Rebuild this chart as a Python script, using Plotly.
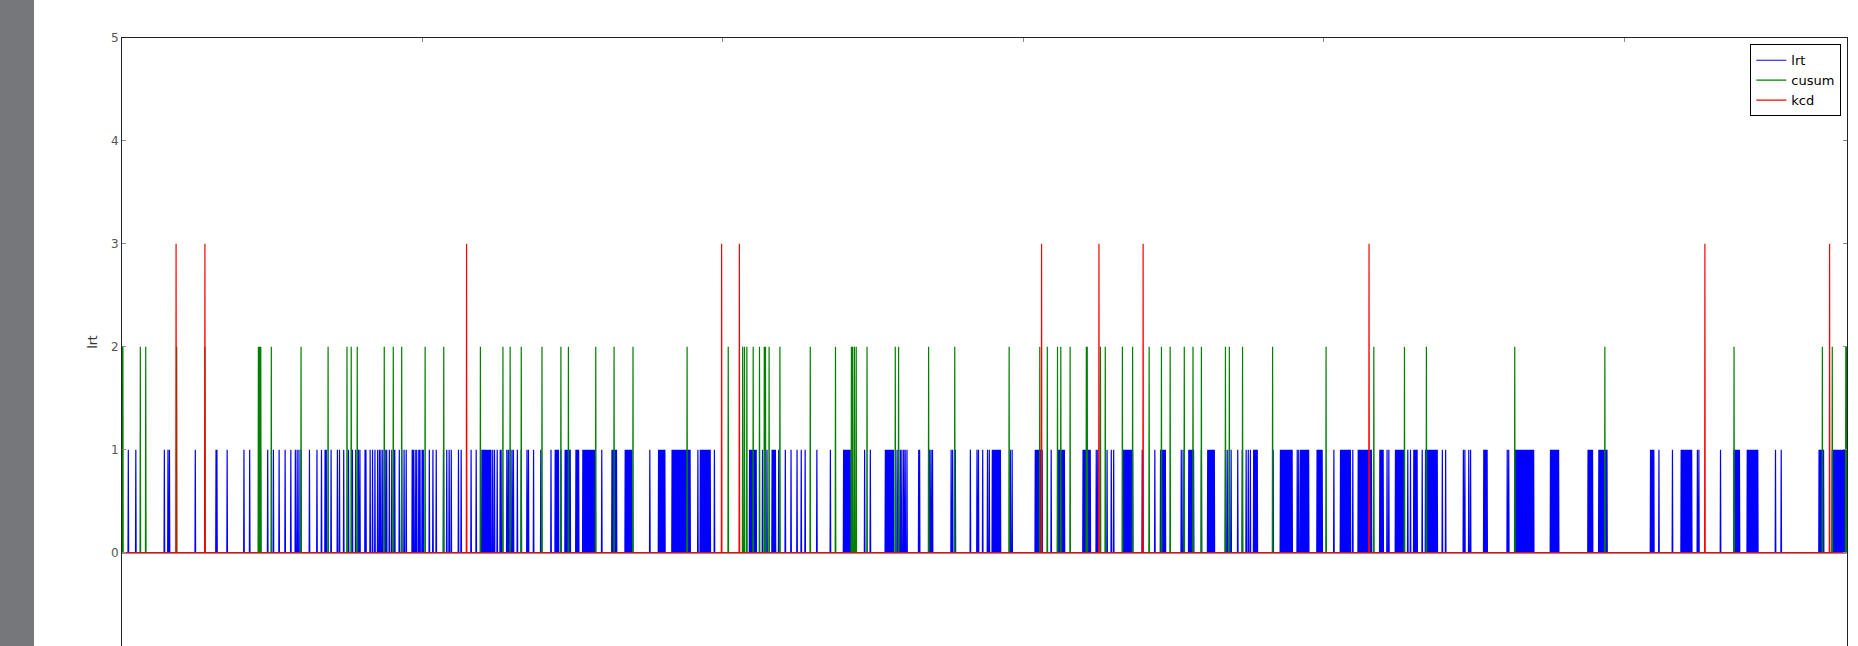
import numpy as np
import plotly.graph_objects as go

# ---- data (sample indices where each detector fires) ----
n_samples = 5742

lrt_events = [
    21, 46, 141, 153, 158, 244, 313, 316, 350, 406, 425, 457, 461, 485, 504, 523, 543, 562, 577, 583,
    589, 596, 624, 649, 664, 676, 680, 696, 717, 724, 738, 754, 767, 778, 787, 792, 809, 812, 826, 834,
    842, 851, 857, 862, 868, 876, 881, 890, 898, 906, 908, 923, 931, 939, 946, 966, 970, 976, 981, 988,
    992, 999, 1003, 1023, 1035, 1046, 1070, 1081, 1089, 1096, 1120, 1129, 1162, 1179,
    1198, 1201, 1204, 1207, 1210, 1213, 1216, 1219, 1222, 1225, 1228, 1234, 1240, 1249,
    1259, 1262, 1281, 1286, 1292, 1298, 1303, 1316, 1329, 1348, 1353, 1370, 1394, 1428,
    1442, 1445, 1448, 1451, 1453, 1461, 1475, 1478, 1481, 1484, 1487, 1490, 1492,
    1511, 1514, 1517, 1520, 1534, 1537, 1540, 1543, 1546, 1549, 1552, 1555, 1558, 1561, 1564, 1567, 1570, 1573,
    1597, 1631, 1634, 1637, 1640, 1643, 1646, 1675, 1678, 1681, 1684, 1687, 1690, 1693, 1697, 1757,
    1786, 1789, 1792, 1795, 1798, 1801, 1804, 1807,
    1831, 1834, 1837, 1840, 1843, 1846, 1849, 1852, 1855, 1858, 1861, 1864, 1867, 1870, 1873, 1876, 1879,
    1882, 1885, 1888, 1891,
    1917, 1925, 1928, 1931, 1934, 1937, 1940, 1943, 1946, 1949, 1952, 1955, 1958, 1972,
    2089, 2092, 2095, 2098, 2101, 2104, 2107, 2111, 2132, 2147, 2164, 2167, 2170, 2173, 2175,
    2186, 2208, 2227, 2247, 2261, 2274, 2313, 2358, 2402, 2405, 2408, 2411, 2414, 2417, 2420, 2424,
    2472, 2491, 2541, 2544, 2547, 2550, 2553, 2556, 2559, 2562, 2565, 2568, 2580, 2585, 2591, 2596,
    2602, 2607, 2613, 2652, 2655, 2688, 2693, 2698, 2760, 2765, 2774, 2824, 2846, 2851, 2865, 2881, 2887,
    2897, 2900, 2903, 2906, 2909, 2912, 2915, 2918, 2921, 2924, 2957, 2963,
    3040, 3043, 3046, 3049, 3052, 3055, 3058, 3061, 3063, 3093,
    3115, 3118, 3121, 3124, 3127, 3130, 3133, 3137, 3199, 3202, 3205, 3208, 3211, 3214, 3217, 3220, 3223,
    3243, 3248, 3279, 3293, 3301, 3332, 3335, 3338, 3341, 3344, 3347, 3350, 3353, 3356, 3359, 3362, 3364,
    3396, 3438, 3457, 3460, 3463, 3466, 3469, 3473, 3526, 3532, 3551, 3554, 3557, 3560, 3563, 3567,
    3593, 3614, 3617, 3620, 3623, 3626, 3629, 3632, 3636, 3673, 3679, 3686, 3692, 3714, 3729, 3742,
    3749, 3756, 3767, 3770, 3773, 3776, 3779, 3832,
    3856, 3859, 3862, 3865, 3868, 3871, 3874, 3877, 3880, 3883, 3886, 3889, 3892, 3895, 3912, 3917,
    3923, 3926, 3929, 3932, 3935, 3938, 3941, 3944, 3947, 3950, 3978, 3981, 3984, 3987, 3990, 3993, 3995,
    4034, 4056, 4059, 4062, 4065, 4068, 4071, 4074, 4077, 4080, 4083, 4086, 4089, 4097,
    4115, 4118, 4121, 4124, 4127, 4130, 4133, 4136, 4139, 4142, 4145, 4148, 4151, 4154, 4157, 4159,
    4187, 4190, 4193, 4196, 4198, 4211, 4217, 4239, 4242, 4245, 4248, 4251, 4254, 4257, 4260, 4263, 4267,
    4280, 4289, 4300, 4303, 4306, 4309, 4311, 4328,
    4339, 4342, 4345, 4348, 4351, 4354, 4357, 4360, 4363, 4366, 4369, 4372, 4375, 4378, 4395, 4406,
    4465, 4470, 4483, 4489, 4533, 4536, 4539, 4542, 4544, 4611, 4616,
    4639, 4642, 4645, 4648, 4651, 4654, 4657, 4660, 4663, 4666, 4669, 4672, 4675, 4678, 4681, 4684,
    4687, 4690, 4693, 4696, 4699,
    4755, 4758, 4761, 4764, 4767, 4770, 4773, 4776, 4779, 4782, 4880, 4883, 4886, 4889, 4892, 4895,
    4916, 4919, 4922, 4925, 4928, 4931, 4934, 4937, 4940, 4943,
    5088, 5091, 5094, 5097, 5099, 5116, 5161,
    5190, 5193, 5196, 5199, 5202, 5205, 5208, 5211, 5214, 5217, 5220, 5223, 5225, 5244, 5249, 5321,
    5366, 5369, 5372, 5375, 5378, 5381, 5384,
    5410, 5413, 5416, 5419, 5422, 5425, 5428, 5431, 5434, 5437, 5440, 5443, 5445, 5504, 5523,
    5649, 5652, 5655, 5658, 5661, 5664,
    5693, 5696, 5699, 5702, 5705, 5708, 5711, 5714, 5717, 5720, 5723, 5726, 5729, 5732, 5735, 5738,
]

cusum_events = [
    0, 3, 61, 79, 182, 276, 454, 458, 462, 497, 596, 686, 749, 763, 783, 873, 903, 931, 1009, 1071,
    1193, 1268, 1292, 1329, 1398, 1461, 1486, 1577, 1638, 1701, 1881, 2018, 2066, 2072, 2080, 2101,
    2122, 2138, 2142, 2154, 2190, 2291, 2375, 2428, 2432, 2438, 2444, 2480, 2574, 2585, 2685, 2772,
    2953, 3055, 3080, 3114, 3125, 3156, 3210, 3213, 3257, 3273, 3330, 3364, 3419, 3460, 3489, 3536,
    3565, 3593, 3673, 3686, 3730, 3830, 4008, 4167, 4269, 4342, 4636, 4936, 5366, 5660, 5693, 5738, 5741,
]

kcd_events = [180, 276, 1147, 1996, 2055, 3061, 3252, 3399, 4151, 5269, 5684]

lrt_level = 1
cusum_level = 2
kcd_level = 3

series_names = ["lrt", "cusum", "kcd"]
series_colors = ["#0000ff", "#008000", "#ff0000"]

# ---- build series ----
x = np.arange(n_samples)


def build(events, level):
    y = np.zeros(n_samples)
    y[np.array(events, dtype=int)] = level
    return y


ys = [build(lrt_events, lrt_level), build(cusum_events, cusum_level), build(kcd_events, kcd_level)]

fig = go.Figure()
for name, color, y in zip(series_names, series_colors, ys):
    fig.add_trace(go.Scatter(x=x, y=y, mode="lines", name=name,
                             line=dict(color=color, width=1.2, simplify=False)))

W, H = 1858, 646
ml, mr, mt, mb = 122, 11, 38, 0
pw = W - ml - mr

fig.update_layout(
    width=W, height=H,
    margin=dict(l=ml, r=mr, t=mt, b=mb, pad=0),
    paper_bgcolor="white", plot_bgcolor="white",
    font=dict(family="DejaVu Sans", size=12, color="#444"),
    showlegend=True,
    legend=dict(x=0.9967, y=0.9896, xanchor="right", yanchor="top",
                bgcolor="white", bordercolor="black", borderwidth=1,
                font=dict(family="DejaVu Sans", size=13, color="black"),
                tracegroupgap=0, itemwidth=30),
    xaxis=dict(range=[0, n_samples], side="top", tickmode="array",
               tickvals=[0, 1000, 2000, 3000, 4000, 5000],
               ticks="inside", ticklen=4, tickcolor="#888", showticklabels=False,
               showline=True, linecolor="#222", linewidth=1, mirror=False,
               showgrid=False, zeroline=False),
    yaxis=dict(range=[-0.908, 5], tickmode="array", tickvals=[0, 1, 2, 3, 4, 5],
               ticks="inside", ticklen=4, tickcolor="#888",
               showline=True, linecolor="#222", linewidth=1, mirror="ticks",
               showgrid=False, zeroline=False,
               tickfont=dict(family="DejaVu Sans", size=12, color="#555"),
               title=dict(text="lrt", standoff=10,
                          font=dict(family="DejaVu Sans", size=12, color="#333"))),
    shapes=[dict(type="rect", xref="paper", yref="paper",
                 x0=-ml / pw, x1=(34 - ml) / pw, y0=0, y1=H / (H - mt - mb),
                 fillcolor="#76777b", line=dict(width=0), layer="below")],
)

fig.write_html("out.html")
